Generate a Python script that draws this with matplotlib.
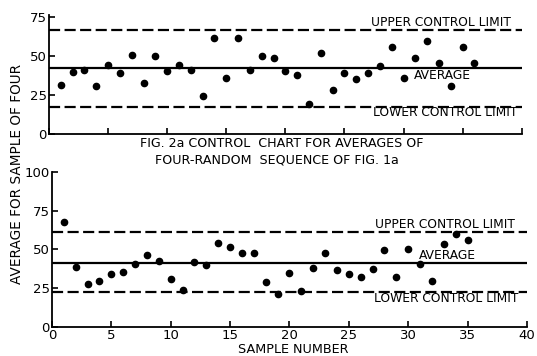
import matplotlib
matplotlib.use('Agg')
import matplotlib.pyplot as plt

# fig 2a - averages of four, random sequence
top_vals = [31.6, 39.5, 41, 30.8, 44.2, 39.3, 50.6, 32.4, 50.2, 40.4, 44.2, 41,
            24.6, 61.3, 35.6, 61.5, 41, 49.7, 48.9, 40.6, 37.8, 19.2, 51.9, 28.2,
            39.1, 35.2, 39.1, 43.8, 55.6, 35.6, 48.5, 59.7, 45.7, 30.8, 56, 45.4]
top_ucl, top_avg, top_lcl = 66.7, 42.5, 17.5

# lower chart
bot_vals = [67.9, 38.7, 27.5, 29.7, 34.2, 35.5, 40.9, 46.5, 42.4, 31, 24.1, 41.9,
            40, 54.2, 51.6, 48, 47.5, 29.2, 21.5, 35, 23, 38, 48, 36.6, 34, 32,
            37.6, 49.5, 32.3, 50.5, 40.4, 29.9, 53.8, 60.2, 55.9]
bot_ucl, bot_avg, bot_lcl = 61.5, 41.5, 22.8

top_x = list(range(1, len(top_vals) + 1))
bot_x = list(range(1, len(bot_vals) + 1))

plt.rcParams['font.family'] = 'DejaVu Sans'
fig = plt.figure(figsize=(5.37, 3.56), dpi=100)

ax1 = fig.add_axes([0.0912, 0.6236, 0.8803, 0.3331])
ax2 = fig.add_axes([0.0968, 0.0815, 0.8845, 0.4354])


def style(ax, ymax, yticks):
    ax.set_xlim(0, 40)
    ax.set_ylim(0, ymax)
    ax.set_yticks(yticks)
    ax.set_xticks(range(0, 41, 5))
    for s in ['top', 'right']:
        ax.spines[s].set_visible(False)
    for s in ['left', 'bottom']:
        ax.spines[s].set_linewidth(1.3)
    ax.tick_params(direction='in', length=4, width=1.2, labelsize=9.5, pad=1.5)


def limits(ax, ucl, avg, lcl):
    ax.plot([0, 40], [ucl, ucl], color='black', lw=1.6, ls=(0, (5, 2)))
    ax.plot([0, 40], [lcl, lcl], color='black', lw=1.6, ls=(0, (5, 2)))
    ax.plot([0, 40], [avg, avg], color='black', lw=1.6)


# top chart
style(ax1, 76, [0, 25, 50, 75])
ax1.set_xticklabels([])
limits(ax1, top_ucl, top_avg, top_lcl)
ax1.plot(top_x, top_vals, 'o', color='black', ms=4.5)
ax1.text(33.2, 71.3, 'UPPER CONTROL LIMIT', ha='center', va='center', fontsize=8.8)
ax1.text(33.3, 37.4, 'AVERAGE', ha='center', va='center', fontsize=8.8)
ax1.text(33.5, 13.7, 'LOWER CONTROL LIMIT', ha='center', va='center', fontsize=8.8)

# bottom chart
style(ax2, 100, [0, 25, 50, 75, 100])
limits(ax2, bot_ucl, bot_avg, bot_lcl)
ax2.plot(bot_x, bot_vals, 'o', color='black', ms=4.5)
ax2.text(33.1, 65.8, 'UPPER CONTROL LIMIT', ha='center', va='center', fontsize=8.8)
ax2.text(33.3, 46.0, 'AVERAGE', ha='center', va='center', fontsize=8.8)
ax2.text(33.2, 18.7, 'LOWER CONTROL LIMIT', ha='center', va='center', fontsize=8.8)

fig.text(0.525, 0.598, 'FIG. 2a CONTROL  CHART FOR AVERAGES OF',
         ha='center', va='center', fontsize=9.1)
fig.text(0.516, 0.551, 'FOUR-RANDOM  SEQUENCE OF FIG. 1a',
         ha='center', va='center', fontsize=9.1)
fig.text(0.032, 0.5126, 'AVERAGE FOR SAMPLE OF FOUR', rotation=90,
         ha='center', va='center', fontsize=9.8)
fig.text(0.546, 0.017, 'SAMPLE NUMBER', ha='center', va='center', fontsize=9.2)

fig.savefig('out.png', dpi=100, facecolor='white')
